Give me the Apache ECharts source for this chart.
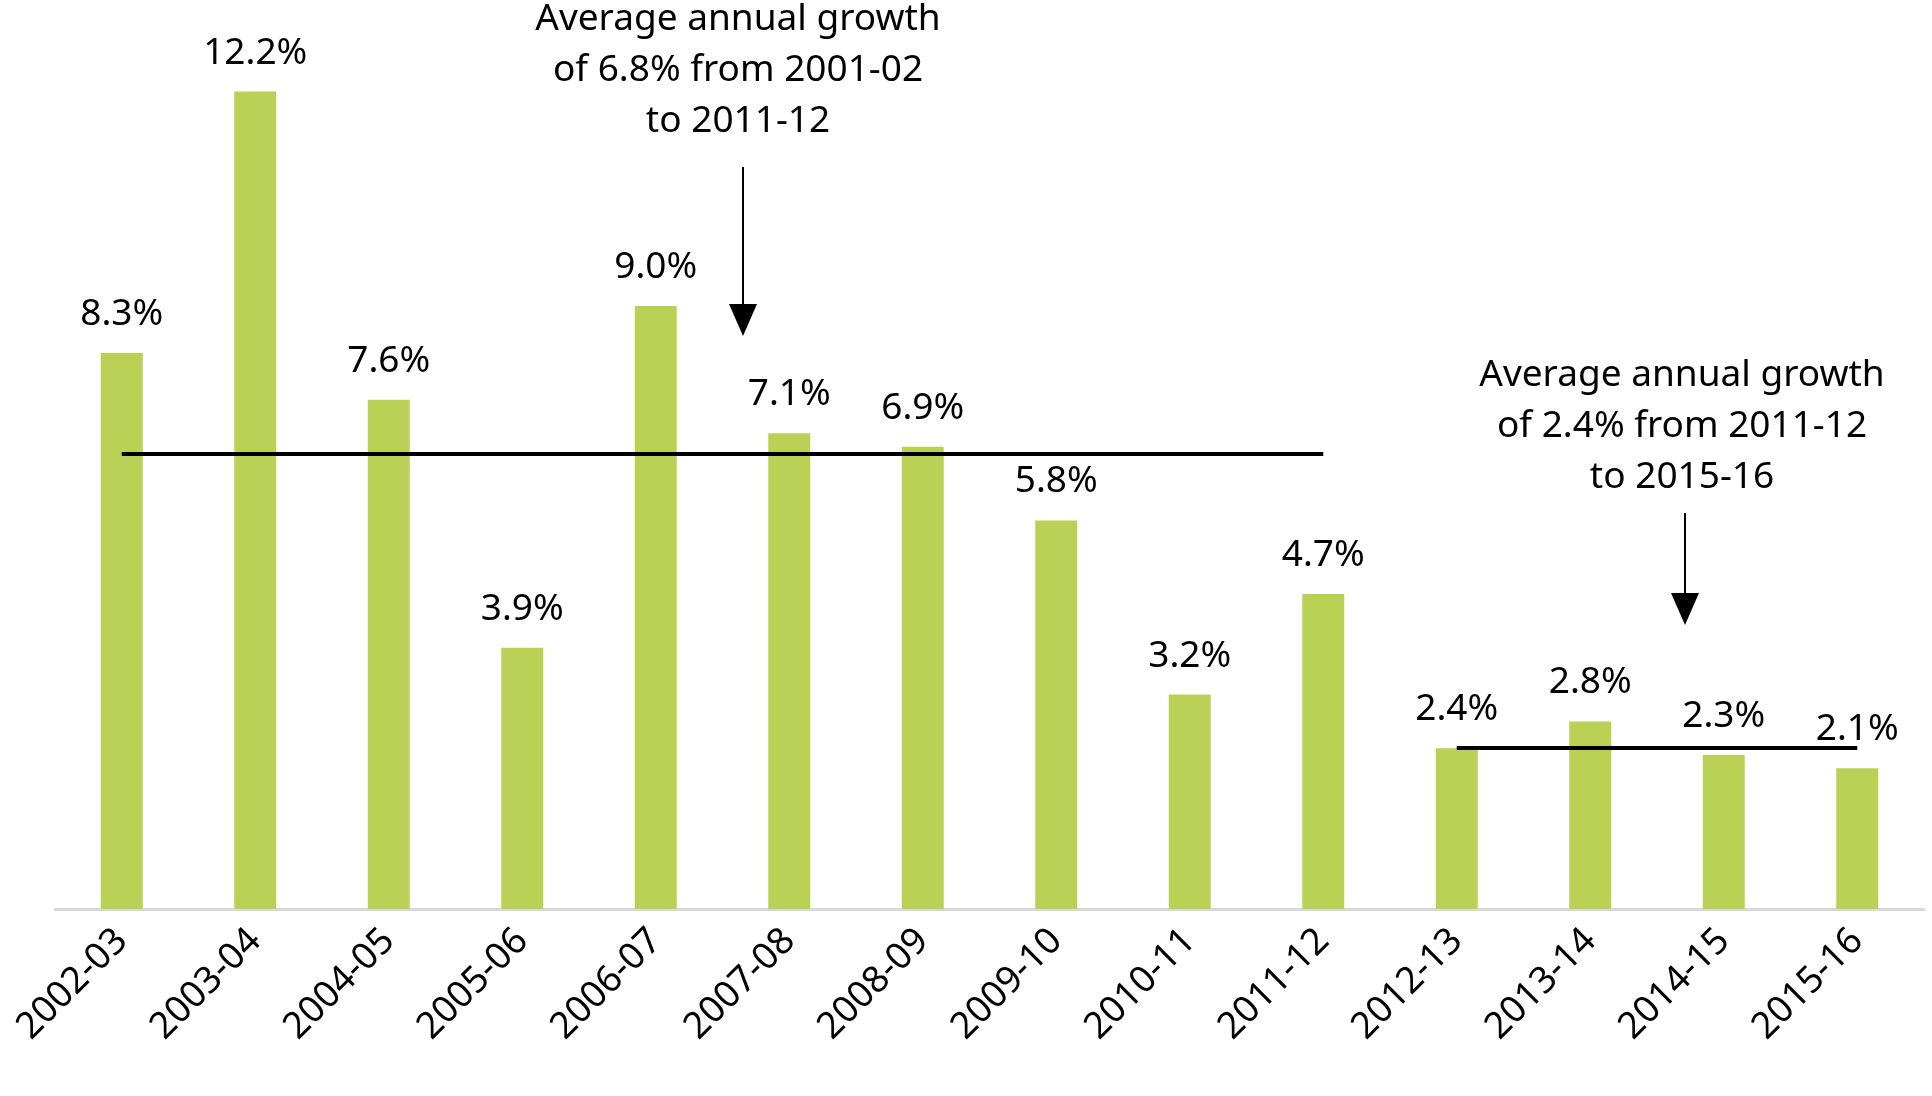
<!DOCTYPE html>
<html>
<head>
<meta charset="utf-8">
<script src="https://cdn.jsdelivr.net/npm/echarts@6/dist/echarts.min.js"></script>
<style>html,body{margin:0;padding:0;background:#fff}#main{width:1932px;height:1096px}</style>
</head>
<body>
<div id="main"></div>
<script>
var years = ['2002-03','2003-04','2004-05','2005-06','2006-07','2007-08','2008-09',
             '2009-10','2010-11','2011-12','2012-13','2013-14','2014-15','2015-16'];
var growth = [8.3, 12.2, 7.6, 3.9, 9.0, 7.1, 6.9, 5.8, 3.2, 4.7, 2.4, 2.8, 2.3, 2.1];
var avgEarly = 6.8;
var avgLate = 2.4;

var chart = echarts.init(document.getElementById('main'));
var font = 'Noto Sans';

// arrow helper: vertical line with triangle head
function arrow(x, y1, y2) {
    return [
        {type: 'line', shape: {x1: x, y1: y1, x2: x, y2: y2 - 30}, style: {stroke: '#000', lineWidth: 2}},
        {type: 'polygon', shape: {points: [[x - 14, y2 - 32], [x + 14, y2 - 32], [x, y2]]}, style: {fill: '#000'}}
    ];
}

function note(x, y, text) {
    return {type: 'text', style: {
        x: x, y: y, text: text,
        font: '37px "Noto Sans"', fill: '#000', textAlign: 'center', lineHeight: 51
    }};
}

var option = {
    animation: false,
    grid: {left: 55, right: 8, top: 38, bottom: 187},
    xAxis: {
        type: 'category',
        data: years,
        axisTick: {show: false},
        axisLine: {lineStyle: {color: '#d9d9d9', width: 3}},
        axisLabel: {rotate: 45, color: '#000', fontSize: 37, fontFamily: font, margin: 26}
    },
    yAxis: {type: 'value', min: 0, max: 13, show: false, splitLine: {show: false}},
    series: [{
        type: 'bar',
        data: growth,
        barWidth: 42,
        itemStyle: {color: '#bbd155'},
        label: {
            show: true, position: 'top', distance: 20,
            color: '#000', fontSize: 37, fontFamily: font,
            formatter: function (p) { return p.value.toFixed(1) + '%'; }
        },
        markLine: {
            silent: true, symbol: 'none',
            lineStyle: {color: '#000', width: 4, type: 'solid'},
            label: {show: false},
            data: [
                [{coord: ['2002-03', avgEarly]}, {coord: ['2011-12', avgEarly]}],
                [{coord: ['2012-13', avgLate]}, {coord: ['2015-16', avgLate]}]
            ]
        }
    }],
    graphic: [note(738, -6, 'Average annual growth\nof 6.8% from 2001-02\nto 2011-12')]
        .concat(arrow(743, 167, 336))
        .concat([note(1682, 350, 'Average annual growth\nof 2.4% from 2011-12\nto 2015-16')])
        .concat(arrow(1685, 513, 625))
};
chart.setOption(option);
window.onresize = chart.resize;
</script>
</body>
</html>
